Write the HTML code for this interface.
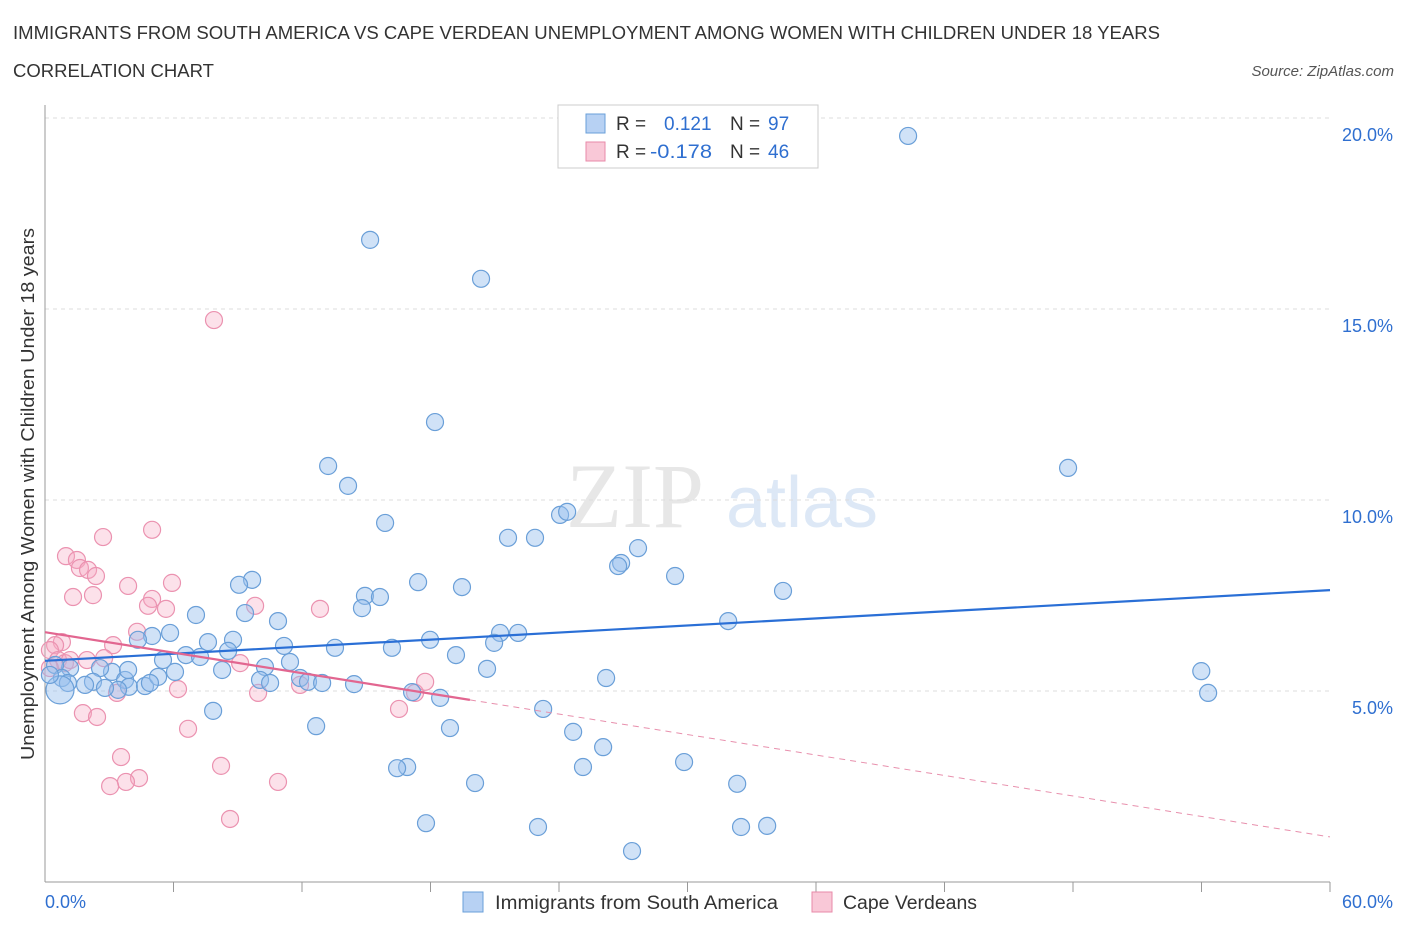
<!DOCTYPE html>
<html><head><meta charset="utf-8"><style>
body{margin:0;background:#fff;font-family:"Liberation Sans",sans-serif;}
svg text{font-family:"Liberation Sans",sans-serif;}
</style></head><body>
<svg id="chart" width="1406" height="930" xmlns="http://www.w3.org/2000/svg">
<text x="13" y="39" font-size="18" fill="#333" textLength="1147" lengthAdjust="spacingAndGlyphs">IMMIGRANTS FROM SOUTH AMERICA VS CAPE VERDEAN UNEMPLOYMENT AMONG WOMEN WITH CHILDREN UNDER 18 YEARS</text>
<text x="13" y="77" font-size="18" fill="#333" textLength="201" lengthAdjust="spacingAndGlyphs">CORRELATION CHART</text>
<text x="1394" y="76" font-size="15" fill="#555" text-anchor="end" font-style="italic">Source: ZipAtlas.com</text>
<g opacity="0.35">
<text x="635" y="527" font-size="92" fill="#bbb" text-anchor="middle" font-family="Liberation Serif" style="font-family:'Liberation Serif',serif">ZIP</text>
<text x="802" y="527" font-size="72" fill="#9fc0e8" text-anchor="middle">atlas</text>
</g>
<g id="grid"></g>
<g id="axes"></g>
<g id="marks"></g>
<text transform="translate(34,494) rotate(-90)" font-size="18" fill="#333" text-anchor="middle" textLength="532" lengthAdjust="spacingAndGlyphs">Unemployment Among Women with Children Under 18 years</text>
<g>
<rect x="558" y="105" width="260" height="63" fill="#fff" stroke="#ccc"/>
<rect x="586" y="114" width="19" height="19" fill="#b7d1f3" stroke="#6a9fd8"/>
<text x="616" y="130" font-size="19" fill="#333">R =</text><text x="664" y="130" font-size="19" fill="#2f6fd0">0.121</text>
<text x="730" y="130" font-size="19" fill="#333">N =</text><text x="768" y="130" font-size="19" fill="#2f6fd0">97</text>
<rect x="586" y="142" width="19" height="19" fill="#f9c8d7" stroke="#e88aa8"/>
<text x="616" y="158" font-size="19" fill="#333">R =</text><text x="650" y="158" font-size="19" fill="#2f6fd0" textLength="62" lengthAdjust="spacingAndGlyphs">-0.178</text>
<text x="730" y="158" font-size="19" fill="#333">N =</text><text x="768" y="158" font-size="19" fill="#2f6fd0">46</text>
</g>
<g>
<rect x="463" y="892" width="20" height="20" fill="#b7d1f3" stroke="#6a9fd8"/>
<text x="495" y="909" font-size="19" fill="#333" textLength="283" lengthAdjust="spacingAndGlyphs">Immigrants from South America</text>
<rect x="812" y="892" width="20" height="20" fill="#f9c8d7" stroke="#e88aa8"/>
<text x="843" y="909" font-size="19" fill="#333" textLength="134" lengthAdjust="spacingAndGlyphs">Cape Verdeans</text>
</g>
</svg>
<script>
const blueX=[40.3,15.18,20.36,18.21,13.22,14.15,47.77,15.88,24.05,24.38,21.62,22.88,27.69,26.9,26.76,29.42,34.46,9.67,9.06,17.42,19.47,14.94,15.64,14.8,7.05,9.34,10.88,31.9,21.25,22.09,5.0,4.34,5.84,7.61,8.78,11.16,17.98,13.54,16.2,20.97,19.19,6.58,7.24,5.51,8.55,11.44,10.27,53.99,20.64,8.27,6.07,3.13,2.57,1.17,0.47,0.79,1.07,2.24,3.74,3.92,4.67,5.28,3.41,10.04,10.51,11.91,12.28,12.94,14.43,17.14,18.45,26.2,54.31,7.85,23.26,12.66,18.91,24.66,26.06,16.91,16.44,25.12,29.84,20.08,32.32,17.79,23.02,32.5,33.72,27.41,0.7,0.23,1.87,2.8,3.88,4.9];
const blueY=[19.53,16.81,15.79,12.04,10.89,10.37,10.84,9.4,9.61,9.69,9.01,9.01,8.74,8.35,8.27,8.01,7.62,7.91,7.78,7.85,7.72,7.49,7.46,7.17,6.99,7.04,6.83,6.83,6.52,6.52,6.44,6.34,6.52,6.28,6.34,6.18,6.34,6.13,6.13,6.26,5.94,5.94,5.89,5.81,6.05,5.76,5.63,5.52,5.58,5.55,5.5,5.5,5.6,5.6,5.68,5.34,5.21,5.24,5.29,5.11,5.13,5.37,5.03,5.29,5.21,5.34,5.24,5.21,5.18,4.97,4.82,5.34,4.95,4.48,4.53,4.08,4.03,3.93,3.53,3.01,2.98,3.01,3.14,2.59,2.57,1.54,1.44,1.44,1.47,0.81,5.03,5.42,5.16,5.08,5.55,5.21];
const pinkX=[7.89,5.0,2.71,0.98,1.49,1.63,2.01,2.38,3.88,5.93,2.24,1.31,5.0,4.81,5.65,9.81,12.84,0.79,0.47,3.18,4.3,0.23,0.61,2.76,1.96,0.93,9.11,11.91,6.21,9.95,3.36,17.28,17.75,16.53,1.77,2.43,6.68,3.55,8.22,4.39,3.78,3.04,10.88,8.64,0.23,1.17];
const pinkY=[14.71,9.22,9.03,8.53,8.43,8.22,8.17,8.01,7.75,7.83,7.51,7.46,7.41,7.23,7.15,7.23,7.15,6.28,6.2,6.2,6.55,6.07,5.81,5.86,5.81,5.73,5.73,5.16,5.05,4.95,4.95,4.95,5.24,4.53,4.42,4.32,4.01,3.27,3.04,2.72,2.62,2.51,2.62,1.65,5.6,5.81];
const blueTrend=[5.79,7.64];
const pinkTrend=[6.54,1.18];
const pinkSolidEnd=19.84;
const yTicks=[5,10,15,20];
const yTickLabels=["5.0%","10.0%","15.0%","20.0%"];
const xTicks=[6,12,18,24,30,36,42,48,54,60];
const xEndLabels=["0.0%","60.0%"];

const NS="http://www.w3.org/2000/svg";
const X0=45,X1=1330,Y0=882,Y20=118;
const sx=v=>X0+(v/60)*(X1-X0);
const sy=v=>Y0-(v/20)*(Y0-Y20);
function mk(tag,attrs,parent){const e=document.createElementNS(NS,tag);for(const k in attrs)e.setAttribute(k,attrs[k]);parent.appendChild(e);return e;}
const grid=document.getElementById('grid'),axes=document.getElementById('axes'),marks=document.getElementById('marks');
yTicks.forEach((t,i)=>{
 const l=mk('line',{x1:X0,x2:X1,y1:sy(t),y2:sy(t),stroke:'#ddd','stroke-dasharray':'4,4'},grid);
 
 
 const tx=mk('text',{x:1393,y:sy(t)+23,'font-size':18,fill:'#2f6fd0','text-anchor':'end'},axes);
 tx.textContent=yTickLabels[i];
 
 
});
const ya=mk('line',{x1:X0,x2:X0,y1:105,y2:Y0,stroke:'#999'},axes);


const xa=mk('line',{x1:X0,x2:X1,y1:Y0,y2:Y0,stroke:'#999'},axes);


xTicks.forEach(t=>{
 const l=mk('line',{x1:sx(t),x2:sx(t),y1:Y0,y2:Y0+10,stroke:'#999'},axes);
 
 
});
[[0,'start',45],[60,'end',1393]].forEach((d,i)=>{
 const tx=mk('text',{x:d[2],y:908,'font-size':18,fill:'#2f6fd0','text-anchor':d[1]},axes);
 tx.textContent=xEndLabels[i];
 
 
});
pinkX.forEach((x,i)=>{
 const c=mk('circle',{cx:sx(x),cy:sy(pinkY[i]),r:8.5,fill:'rgba(245,170,195,0.35)',stroke:'#eb92b0','stroke-width':1.2},marks);
 
 
});
blueX.forEach((x,i)=>{
 const big=(i===90);
 const c=mk('circle',{cx:sx(x),cy:sy(blueY[i]),r:big?14:8.5,fill:'rgba(150,190,238,0.45)',stroke:'#6a9fd8','stroke-width':1.2},marks);
 
 
});
const bt=mk('line',{x1:sx(0),y1:sy(blueTrend[0]),x2:sx(60),y2:sy(blueTrend[1]),stroke:'#2a6fd6','stroke-width':2.2},marks);


const pAt=x=>pinkTrend[0]+(pinkTrend[1]-pinkTrend[0])*x/60;
const ps=mk('line',{x1:sx(0),y1:sy(pAt(0)),x2:sx(pinkSolidEnd),y2:sy(pAt(pinkSolidEnd)),stroke:'#e26690','stroke-width':2.2},marks);


const pd=mk('line',{x1:sx(pinkSolidEnd),y1:sy(pAt(pinkSolidEnd)),x2:sx(60),y2:sy(pAt(60)),stroke:'#e890ad','stroke-width':1,'stroke-dasharray':'6,5'},marks);


</script>
</body></html>
